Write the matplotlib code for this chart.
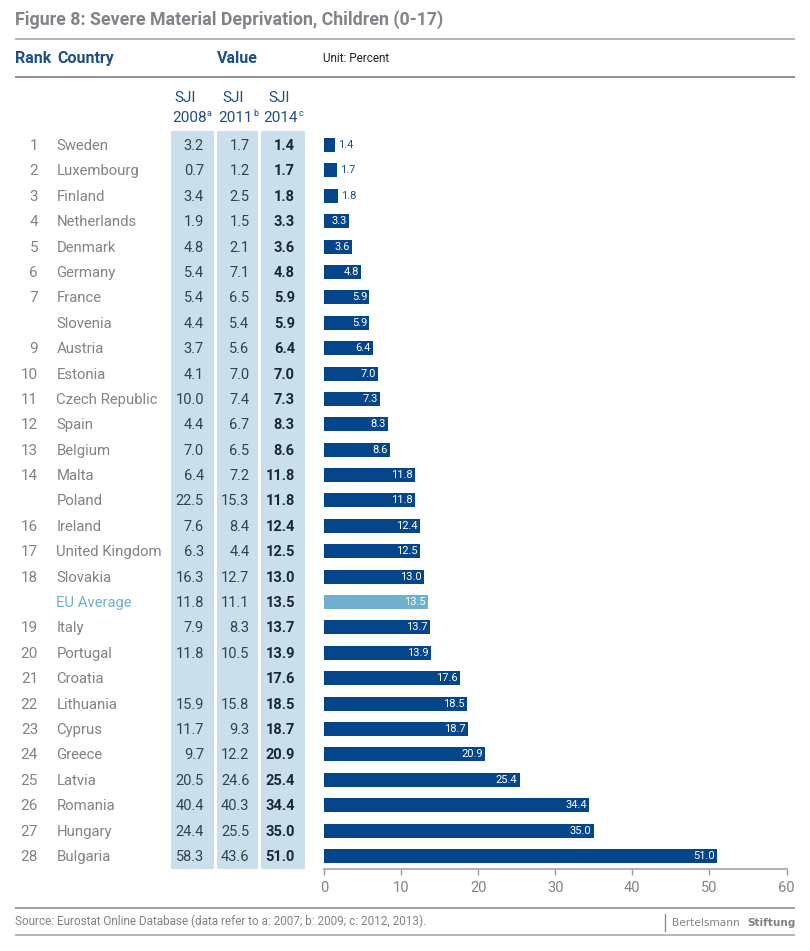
import matplotlib
matplotlib.use("Agg")
import matplotlib.pyplot as plt
from matplotlib.transforms import blended_transform_factory as blend, offset_copy

ranks = ["1","2","3","4","5","6","7","","9","10","11","12","13","14","","16","17","18","","19","20","21","22","23","24","25","26","27","28"]
countries = ["Sweden","Luxembourg","Finland","Netherlands","Denmark","Germany","France","Slovenia","Austria","Estonia",
             "Czech Republic","Spain","Belgium","Malta","Poland","Ireland","United Kingdom","Slovakia","EU Average","Italy",
             "Portugal","Croatia","Lithuania","Cyprus","Greece","Latvia","Romania","Hungary","Bulgaria"]
sji2008 = [3.2,0.7,3.4,1.9,4.8,5.4,5.4,4.4,3.7,4.1,10.0,4.4,7.0,6.4,22.5,7.6,6.3,16.3,11.8,7.9,11.8,None,15.9,11.7,9.7,20.5,40.4,24.4,58.3]
sji2011 = [1.7,1.2,2.5,1.5,2.1,7.1,6.5,5.4,5.6,7.0,7.4,6.7,6.5,7.2,15.3,8.4,4.4,12.7,11.1,8.3,10.5,None,15.8,9.3,12.2,24.6,40.3,25.5,43.6]
sji2014 = [1.4,1.7,1.8,3.3,3.6,4.8,5.9,5.9,6.4,7.0,7.3,8.3,8.6,11.8,11.8,12.4,12.5,13.0,13.5,13.7,13.9,17.6,18.5,18.7,20.9,25.4,34.4,35.0,51.0]
xticks = [0,10,20,30,40,50,60]

plt.rcParams["font.family"] = ["Roboto", "DejaVu Sans"]

W, H = 810, 951
fig = plt.figure(figsize=(W/100, H/100), dpi=100)
bg = fig.add_axes([0, 0, 1, 1])
bg.set_xlim(0, W); bg.set_ylim(H, 0); bg.axis("off")

GREY, BLUE, BAR, LIGHT, COL, DARK = "#808387", "#1d4f85", "#05468a", "#6fb0cf", "#c9dfeb", "#33424e"

n = len(countries)
rowH = (856 - 145) / (n - 1)
top, bottom = 131, 868.5
left, right = 324, 786.5
ax = fig.add_axes([left/W, 1-bottom/H, (right-left)/W, (bottom-top)/H])
ax.set_xlim(0, 60)
ax.set_ylim((bottom-145)/rowH, (top-145)/rowH)
ax.patch.set_alpha(0)

# column bands
for x0, x1 in [(171, 214), (217, 258), (261, 305)]:
    bg.fill_between([x0, x1], 131, 868.5, color=COL, lw=0)

# rules
for y, c, lw in [(39, "#b5b7b9", 1.4), (77, "#8d9093", 1.4), (908, "#8d9093", 1.2), (935, "#b5b7b9", 1.4)]:
    bg.plot([15, 795], [y, y], color=c, lw=lw, solid_capstyle="butt")
bg.plot([665, 665], [914, 931], color="#8d9093", lw=1)

# heading texts
bg.text(15, 25, "Figure 8: Severe Material Deprivation, Children (0-17)", fontsize=12.8, fontweight="bold", color=GREY, va="baseline")
bg.text(15, 63, "Rank", fontsize=11.5, fontweight="bold", color=BLUE, va="baseline")
bg.text(57, 63, "Country", fontsize=11.5, fontweight="bold", color=BLUE, va="baseline")
bg.text(237, 63, "Value", fontsize=11.5, fontweight="bold", color=BLUE, va="baseline", ha="center")
bg.text(323, 62, "Unit: Percent", fontsize=8.5, color="#222222", va="baseline")
for xs, xy, xsup, yr, sup in [(185, 190, 207, "2008", "a"), (233, 235, 253, "2011", "b"), (279, 281, 299, "2014", "c")]:
    bg.text(xs, 102, "SJI", fontsize=11, color=BLUE, va="baseline", ha="center")
    bg.text(xy, 122, yr, fontsize=11, color=BLUE, va="baseline", ha="center")
    bg.text(xsup, 116, sup, fontsize=6.5, color=BLUE, va="baseline", ha="left")

# table rows: baselines sit a fixed distance below each row centre
tr = offset_copy(blend(bg.transData, ax.transData), fig=fig, x=0, y=-5, units="dots")
for i in range(n):
    is_eu = countries[i] == "EU Average"
    bg.text(38, i, ranks[i], transform=tr, fontsize=11, color=GREY, ha="right", va="baseline")
    bg.text(56.5, i, countries[i], transform=tr, fontsize=10.7, color=LIGHT if is_eu else GREY, va="baseline")
    if sji2008[i] is not None:
        bg.text(204, i, f"{sji2008[i]:.1f}", transform=tr, fontsize=10.5, color=DARK, ha="right", va="baseline")
    if sji2011[i] is not None:
        bg.text(249.5, i, f"{sji2011[i]:.1f}", transform=tr, fontsize=10.5, color=DARK, ha="right", va="baseline")
    bg.text(295, i, f"{sji2014[i]:.1f}", transform=tr, fontsize=10.5, fontweight="bold", color="#1c2730", ha="right", va="baseline")

# bars
colors = [LIGHT if c == "EU Average" else BAR for c in countries]
ax.barh(range(n), sji2014, height=14/rowH, color=colors, lw=0)
for i, v in enumerate(sji2014):
    if v < 2:
        ax.text(v + 0.4, i, f"{v:.1f}", fontsize=8, color=BLUE, va="center", ha="left")
    else:
        ax.text(v - 0.3, i, f"{v:.1f}", fontsize=8, color="white", va="center", ha="right")

# axis
for s in ["top", "left", "right"]:
    ax.spines[s].set_visible(False)
ax.spines["bottom"].set_color("#9a9c9e")
ax.spines["bottom"].set_linewidth(1.1)
ax.set_yticks([])
ax.set_xticks(xticks)
ax.tick_params(axis="x", length=4, width=1, color="#9a9c9e", labelcolor=GREY, labelsize=10.5, pad=5)

# source and logo
bg.text(15, 925, "Source: Eurostat Online Database (data refer to a: 2007; b: 2009; c: 2012, 2013).", fontsize=8.5, color=GREY, va="baseline")
bg.text(672, 926, "Bertelsmann", fontsize=7.6, color=GREY, va="baseline", family="DejaVu Sans")
bg.text(796, 926, "Stiftung", fontsize=7.6, fontweight="bold", color=GREY, va="baseline", ha="right", family="DejaVu Sans")

fig.savefig("out.png", dpi=100)
